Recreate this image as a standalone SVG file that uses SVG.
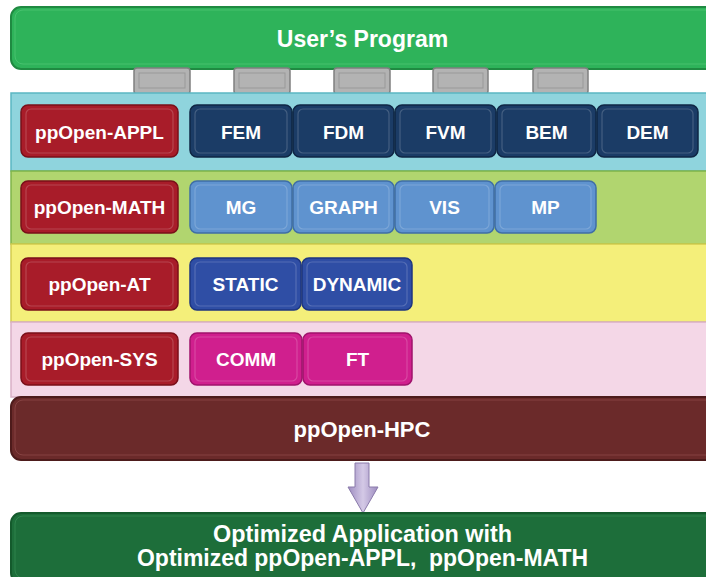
<svg xmlns="http://www.w3.org/2000/svg" width="706" height="577" viewBox="0 0 706 577">
<defs>
<style>
text{font-family:"Liberation Sans",Arial,sans-serif;font-weight:bold;fill:#fff;text-anchor:middle}
.lbl{font-size:19px}
.red{fill:#a81c29;stroke:#7a0f19;stroke-width:1.5}
.appl{fill:#1b3c66;stroke:#0f2644;stroke-width:1.5}
.math{fill:#5f93cf;stroke:#3f6ea6;stroke-width:1.5}
.at{fill:#2f4ea5;stroke:#1e3680;stroke-width:1.5}
.sys{fill:#d01f8e;stroke:#a0136c;stroke-width:1.5}
.inner{fill:none;stroke:#ffffff;stroke-opacity:0.18;stroke-width:1.2}
.tab{fill:#b3b3b3;stroke:#808080;stroke-width:1.5}
.tabin{fill:none;stroke:#999999;stroke-width:1}
</style>
<linearGradient id="arr" x1="0" x2="1" y1="0" y2="0">
<stop offset="0" stop-color="#9d8cc0"/><stop offset="0.5" stop-color="#d4c9e6"/><stop offset="1" stop-color="#9d8cc0"/>
</linearGradient>
</defs>

<g id="users-program">
<rect x="11" y="7" width="710" height="62" rx="10" fill="#2eb35a" stroke="#1f8a41" stroke-width="2"/>
<rect x="15" y="10" width="700" height="54" rx="8" fill="none" stroke="#5fcf82" stroke-opacity="0.5"/>
<text x="362.5" y="47" font-size="23">User’s Program</text>
</g>

<g id="tabs">
<rect class="tab" x="134" y="68" width="56" height="26" rx="3"/><rect class="tabin" x="139" y="73" width="46" height="15"/>
<rect class="tab" x="234" y="68" width="56" height="26" rx="3"/><rect class="tabin" x="239" y="73" width="46" height="15"/>
<rect class="tab" x="334" y="68" width="56" height="26" rx="3"/><rect class="tabin" x="339" y="73" width="46" height="15"/>
<rect class="tab" x="433" y="68" width="55" height="26" rx="3"/><rect class="tabin" x="438" y="73" width="45" height="15"/>
<rect class="tab" x="533" y="68" width="55" height="26" rx="3"/><rect class="tabin" x="538" y="73" width="45" height="15"/>
</g>

<g id="band-appl">
<rect x="11" y="93" width="710" height="78" fill="#8fd4dd" stroke="#5bb6c2" stroke-width="1.5"/>
</g>
<g id="band-math">
<rect x="11" y="171" width="710" height="73" fill="#b1d56f" stroke="#7fb44a" stroke-width="1.5"/>
</g>
<g id="band-at">
<rect x="11" y="244" width="710" height="78" fill="#f4ef7a" stroke="#d2cc4f" stroke-width="1.5"/>
</g>
<g id="band-sys">
<rect x="11" y="322" width="710" height="75" fill="#f4d7e7" stroke="#d9b0c6" stroke-width="1.5"/>
</g>

<g id="ppopen-appl">
<rect class="red" x="21" y="105" width="157" height="52" rx="7"/>
<rect class="inner" x="26" y="109" width="147" height="44" rx="5"/>
<text class="lbl" x="99.5" y="139">ppOpen-APPL</text>
</g>
<g id="fem"><rect class="appl" x="190" y="105" width="102" height="52" rx="7"/><rect class="inner" x="195" y="109" width="92" height="44" rx="5"/><text class="lbl" x="241" y="139">FEM</text></g>
<g id="fdm"><rect class="appl" x="293" y="105" width="101" height="52" rx="7"/><rect class="inner" x="298" y="109" width="91" height="44" rx="5"/><text class="lbl" x="343.5" y="139">FDM</text></g>
<g id="fvm"><rect class="appl" x="395" y="105" width="101" height="52" rx="7"/><rect class="inner" x="400" y="109" width="91" height="44" rx="5"/><text class="lbl" x="445.5" y="139">FVM</text></g>
<g id="bem"><rect class="appl" x="497" y="105" width="99" height="52" rx="7"/><rect class="inner" x="502" y="109" width="89" height="44" rx="5"/><text class="lbl" x="546.5" y="139">BEM</text></g>
<g id="dem"><rect class="appl" x="597" y="105" width="101" height="52" rx="7"/><rect class="inner" x="602" y="109" width="91" height="44" rx="5"/><text class="lbl" x="647.5" y="139">DEM</text></g>

<g id="ppopen-math">
<rect class="red" x="21" y="181" width="157" height="52" rx="7"/>
<rect class="inner" x="26" y="185" width="147" height="44" rx="5"/>
<text class="lbl" x="99.5" y="214">ppOpen-MATH</text>
</g>
<g id="mg"><rect class="math" x="190" y="181" width="102" height="52" rx="7"/><rect class="inner" x="195" y="185" width="92" height="44" rx="5"/><text class="lbl" x="241" y="214">MG</text></g>
<g id="graph"><rect class="math" x="293" y="181" width="101" height="52" rx="7"/><rect class="inner" x="298" y="185" width="91" height="44" rx="5"/><text class="lbl" x="343.5" y="214">GRAPH</text></g>
<g id="vis"><rect class="math" x="395" y="181" width="99" height="52" rx="7"/><rect class="inner" x="400" y="185" width="89" height="44" rx="5"/><text class="lbl" x="444.5" y="214">VIS</text></g>
<g id="mp"><rect class="math" x="495" y="181" width="101" height="52" rx="7"/><rect class="inner" x="500" y="185" width="91" height="44" rx="5"/><text class="lbl" x="545.5" y="214">MP</text></g>

<g id="ppopen-at">
<rect class="red" x="21" y="258" width="157" height="52" rx="7"/>
<rect class="inner" x="26" y="262" width="147" height="44" rx="5"/>
<text class="lbl" x="99.5" y="291">ppOpen-AT</text>
</g>
<g id="static"><rect class="at" x="190" y="258" width="111" height="52" rx="7"/><rect class="inner" x="195" y="262" width="101" height="44" rx="5"/><text class="lbl" x="245.5" y="291">STATIC</text></g>
<g id="dynamic"><rect class="at" x="302" y="258" width="110" height="52" rx="7"/><rect class="inner" x="307" y="262" width="100" height="44" rx="5"/><text class="lbl" x="357" y="291">DYNAMIC</text></g>

<g id="ppopen-sys">
<rect class="red" x="21" y="333" width="157" height="52" rx="7"/>
<rect class="inner" x="26" y="337" width="147" height="44" rx="5"/>
<text class="lbl" x="99.5" y="366">ppOpen-SYS</text>
</g>
<g id="comm"><rect class="sys" x="190" y="333" width="112" height="52" rx="7"/><rect class="inner" x="195" y="337" width="102" height="44" rx="5"/><text class="lbl" x="246" y="366">COMM</text></g>
<g id="ft"><rect class="sys" x="303" y="333" width="109" height="52" rx="7"/><rect class="inner" x="308" y="337" width="99" height="44" rx="5"/><text class="lbl" x="357.5" y="366">FT</text></g>

<g id="ppopen-hpc">
<rect x="11" y="397" width="710" height="63" rx="10" fill="#6b2a2a" stroke="#4d1b1b" stroke-width="2"/>
<rect x="15" y="400" width="700" height="55" rx="8" fill="none" stroke="#a05a5a" stroke-opacity="0.5"/>
<text x="362" y="437" font-size="22">ppOpen-HPC</text>
</g>

<g id="connectors">
<path d="M355 463 H369 V487 H378 L363 513 L348 487 H355 Z" fill="url(#arr)" stroke="#8a7aaa" stroke-width="1"/>
</g>

<g id="optimized">
<rect x="11" y="513" width="710" height="70" rx="10" fill="#1d6e3a" stroke="#145a2c" stroke-width="2"/>
<rect x="15" y="516" width="700" height="62" rx="8" fill="none" stroke="#3f9a5e" stroke-opacity="0.5"/>
<text x="362.5" y="542" font-size="23" textLength="299" lengthAdjust="spacingAndGlyphs">Optimized Application with</text>
<text x="362.5" y="566" font-size="23" textLength="451" lengthAdjust="spacingAndGlyphs">Optimized ppOpen-APPL,&#160; ppOpen-MATH</text>
</g>
</svg>
